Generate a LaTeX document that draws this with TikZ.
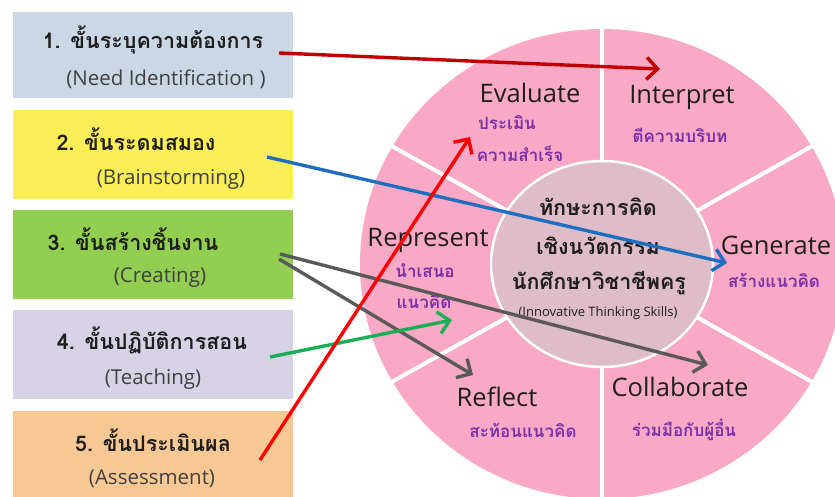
\documentclass[tikz,border=0pt]{standalone}
\usepackage{fontspec}
\setmainfont{Open Sans}
\newfontfamily\thai[Script=Thai]{Loma}
\usetikzlibrary{arrows.meta}
\definecolor{boxA}{HTML}{CCD7E6}
\definecolor{boxB}{HTML}{FAEE58}
\definecolor{boxC}{HTML}{92CF50}
\definecolor{boxD}{HTML}{D8D2E6}
\definecolor{boxE}{HTML}{F8C894}
\definecolor{wheelpink}{HTML}{F9A9C6}
\definecolor{innerpink}{HTML}{DEBCC8}
\definecolor{purp}{HTML}{7A30A8}
\definecolor{darkred}{HTML}{C00000}
\definecolor{arblue}{HTML}{1F6FC0}
\definecolor{argray}{HTML}{5A5A5A}
\definecolor{argreen}{HTML}{1AAF54}
\definecolor{txt}{HTML}{1E1E1E}
\begin{document}
\begin{tikzpicture}[x=1pt,y=-1pt,
  box/.style={inner sep=0pt, minimum width=280pt},
  thaistep/.style={font=\thai\bfseries\fontsize{21.5}{24}\selectfont, text=txt, inner sep=0pt},
  engstep/.style={font=\fontsize{20.5}{24}\selectfont, text=txt!85, inner sep=0pt},
  seglabel/.style={font=\fontsize{25.5}{30}\selectfont, text=txt, inner sep=0pt},
  segthai/.style={font=\thai\bfseries\fontsize{17}{20}\selectfont, text=purp, inner sep=0pt},
  centerthai/.style={font=\thai\bfseries\fontsize{21.5}{24}\selectfont, text=txt, inner sep=0pt},
  arr/.style={line width=3.4pt, -{Straight Barb[length=11pt, width=22pt]}}
]
\useasboundingbox (0,0) rectangle (835,497);
\fill[white] (0,0) rectangle (835,497);
\begin{scope}
\clip (0,0) rectangle (835,497);
% left boxes
\node[box, fill=boxA, minimum height=86pt] (b1) at (153,55) {};
\node[box, fill=boxB, minimum height=89pt] (b2) at (153,154.5) {};
\node[box, fill=boxC, minimum height=89pt] (b3) at (153,254.5) {};
\node[box, fill=boxD, minimum height=89pt] (b4) at (153,354.5) {};
\node[box, fill=boxE, minimum height=100pt] (b5) at (153,461) {};
% wheel
\begin{scope}[shift={(602,264)}]
\fill[wheelpink] (0,0) ellipse [x radius=242, y radius=235];
\foreach \a in {30,90,150,210,270,330}
  \draw[white, line width=4pt] (0,0) -- (\a:250 and 243);
\filldraw[fill=innerpink, draw=white, line width=2.5pt] (0,0) ellipse [x radius=111, y radius=103];
\end{scope}
\end{scope}
% box texts
\node[thaistep] (t1) at (153,40) {1. ขั้นระบุความต้องการ};
\node[engstep] (e1) at (166,79) {(Need Identification )};
\node[thaistep] (t2) at (136,139) {2. ขั้นระดมสมอง};
\node[engstep] (e2) at (171,179) {(Brainstorming)};
\node[thaistep] (t3) at (133,239) {3. ขั้นสร้างชิ้นงาน};
\node[engstep] (e3) at (160,277) {(Creating)};
\node[thaistep] (t4) at (152,340) {4. ขั้นปฏิบัติการสอน};
\node[engstep] (e4) at (153,379) {(Teaching)};
\node[thaistep] (t5) at (153,440) {5. ขั้นประเมินผล};
\node[engstep] (e5) at (152,479) {(Assessment)};
% segment labels
\node[seglabel] (sEval) at (530,93) {Evaluate};
\node[segthai] (sEval1) at (507,123) {ประเมิน};
\node[segthai] (sEval2) at (520,154) {ความสำเร็จ};
\node[seglabel] (sInt) at (682,97) {Interpret};
\node[segthai] (sInt1) at (680,135) {ตีความบริบท};
\node[seglabel] (sGen) at (776,245) {Generate};
\node[segthai] (sGen1) at (774,280) {สร้างแนวคิด};
\node[seglabel] (sRep) at (428,240) {Represent};
\node[segthai] (sRep1) at (425,271) {นำเสนอ};
\node[segthai] (sRep2) at (424,302) {แนวคิด};
\node[seglabel] (sRef) at (497,397) {Reflect};
\node[segthai] (sRef1) at (523,430) {สะท้อนแนวคิด};
\node[seglabel] (sCol) at (680,387) {Collaborate};
\node[segthai] (sCol1) at (684,430) {ร่วมมือกับผู้อื่น};
% center
\node[centerthai] (c1) at (598,207) {ทักษะการคิด};
\node[centerthai] (c2) at (598,246) {เชิงนวัตกรรม};
\node[centerthai] (c3) at (599,283) {นักศึกษาวิชาชีพครู};
\node[font=\fontsize{13}{16}\selectfont, text=txt, inner sep=0pt] (c4) at (598,313) {(Innovative Thinking Skills)};
% arrow ends
\coordinate (a1s) at (279,53);  \coordinate (a1e) at (660,69);
\coordinate (a2s) at (267,157); \coordinate (a2e) at (727,263);
\coordinate (a3s) at (280,254); \coordinate (a3e) at (708,365);
\coordinate (a4s) at (279,259); \coordinate (a4e) at (473,375);
\coordinate (a5s) at (270,357); \coordinate (a5e) at (452,320);
\coordinate (a6s) at (260,460); \coordinate (a6e) at (470,137);
\draw[arr, darkred] (a1s) -- (a1e);
\draw[arr, arblue] (a2s) -- (a2e);
\draw[arr, argray] (a3s) -- (a3e);
\draw[arr, argray] (a4s) -- (a4e);
\draw[arr, argreen] (a5s) -- (a5e);
\draw[arr, red] (a6s) -- (a6e);
\end{tikzpicture}
\end{document}
